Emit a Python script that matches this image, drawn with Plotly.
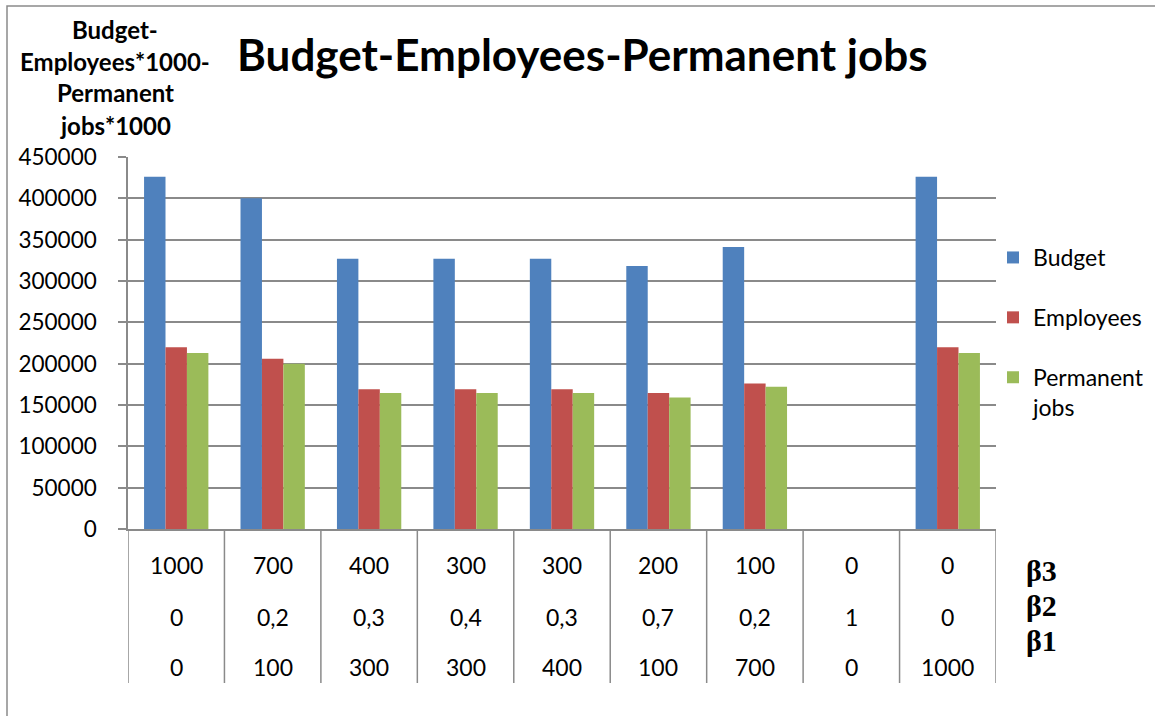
import plotly.graph_objects as go

# Series values for each parameter combination
budget = [426000, 400000, 327000, 327000, 327000, 318000, 341000, 0, 426000]
employees = [220000, 206000, 169000, 169000, 169000, 164500, 176000, 0, 220000]
permanent_jobs = [213000, 200000, 164500, 164500, 164500, 159000, 172000, 0, 213000]

# Parameter table shown under the bars (one row per beta)
beta3 = ["1000", "700", "400", "300", "300", "200", "100", "0", "0"]
beta2 = ["0", "0,2", "0,3", "0,4", "0,3", "0,7", "0,2", "1", "0"]
beta1 = ["0", "100", "300", "300", "400", "100", "700", "0", "1000"]
row_names = ["β3", "β2", "β1"]

y_title_lines = ["Budget-", "Employees*1000-", "Permanent", "jobs*1000"]
chart_title = "Budget-Employees-Permanent jobs"

W, H = 1155, 716
L, R, T, B = 128, 159, 157, 187
plot_h = H - T - B
plot_w = W - L - R


def py(p):
    """pixel row -> paper y"""
    return (H - B - p) / plot_h


def px(p):
    """pixel column -> paper x"""
    return (p - L) / plot_w


FONT = "Lato"
GRID = "#8a8a8a"
xs = list(range(len(budget)))

fig = go.Figure()
series = [
    ("Budget", budget, "#4F81BD"),
    ("Employees", employees, "#C0504D"),
    ("Permanent<br>jobs", permanent_jobs, "#9BBB59"),
]
for name, vals, col in series:
    fig.add_trace(go.Bar(
        x=xs, y=vals, name=name, legendgroup=name,
        marker=dict(color=col, line=dict(width=0)),
    ))

annotations = []
# table rows under the category axis
for row, ypix in zip([beta3, beta2, beta1], [565, 617, 667]):
    for i, txt in enumerate(row):
        annotations.append(dict(
            x=i, xref="x", y=py(ypix), yref="paper", text=txt,
            showarrow=False, xanchor="center", yanchor="middle",
            font=dict(family=FONT, size=23, color="black"),
        ))
# row names on the right
for name, ypix in zip(row_names, [570, 605, 640]):
    annotations.append(dict(
        x=px(1024), xref="paper", y=py(ypix), yref="paper", text=name,
        showarrow=False, xanchor="left", yanchor="middle",
        font=dict(family="Liberation Serif", size=30, color="black", weight="bold"),
    ))
# stacked y-axis title
for line, ypix in zip(y_title_lines, [29, 61, 93, 125]):
    annotations.append(dict(
        x=px(115), xref="paper", y=py(ypix), yref="paper", text=line,
        showarrow=False, xanchor="center", yanchor="middle",
        font=dict(family=FONT, size=24, color="black", weight="bold"),
    ))

shapes = []
# vertical dividers of the parameter table
for i in range(len(xs) + 1):
    shapes.append(dict(
        type="line", xref="x", yref="paper", x0=i - 0.5, x1=i - 0.5,
        y0=0, y1=py(683), line=dict(color=GRID, width=1.5),
    ))
# outer chart frame
shapes.append(dict(
    type="rect", xref="paper", yref="paper",
    x0=px(7), x1=px(W + 20), y0=py(6), y1=py(H + 20),
    line=dict(color=GRID, width=1.5), fillcolor="rgba(0,0,0,0)",
))

fig.update_layout(
    width=W, height=H,
    margin=dict(l=L, r=R, t=T, b=B, autoexpand=False),
    paper_bgcolor="white", plot_bgcolor="white",
    barmode="group", bargap=0.333, bargroupgap=0,
    title=dict(
        text=chart_title, x=237 / W, xanchor="left", xref="container",
        y=1 - 56 / H, yanchor="middle", yref="container",
        font=dict(family=FONT, size=44, color="black", weight="bold"),
    ),
    xaxis=dict(
        range=[-0.5, len(xs) - 0.5], showticklabels=False, ticks="",
        showgrid=False, zeroline=False, showline=True, linecolor=GRID, linewidth=1.5,
    ),
    yaxis=dict(
        range=[0, 450000], dtick=50000, tick0=0,
        showgrid=True, gridcolor=GRID, gridwidth=1.5, zeroline=False,
        showline=True, linecolor=GRID, linewidth=1.5,
        ticks="outside", ticklen=8, tickcolor=GRID, tickwidth=1.5,
        ticklabelstandoff=17, tickformat="d",
        tickfont=dict(family=FONT, size=22.5, color="black"),
    ),
    legend=dict(
        x=px(993), xref="paper", y=py(236), yref="paper",
        xanchor="left", yanchor="top", valign="top",
        tracegroupgap=27, bgcolor="rgba(0,0,0,0)",
        font=dict(family=FONT, size=23, color="black"),
    ),
    showlegend=True,
    annotations=annotations,
    shapes=shapes,
)

fig.write_html("out.html")
